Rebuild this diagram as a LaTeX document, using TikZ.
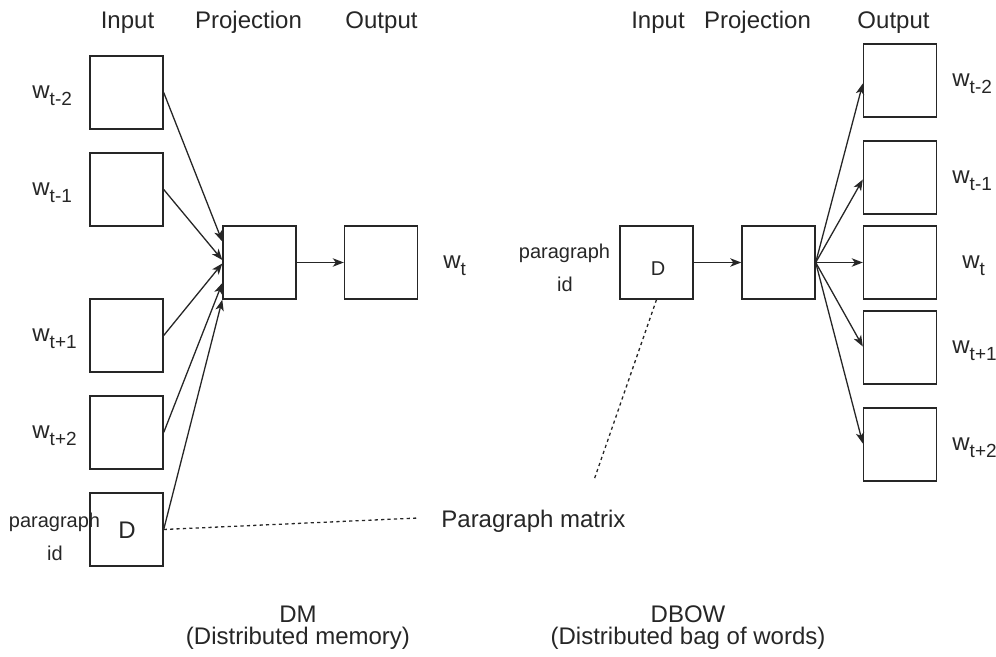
\documentclass[tikz,border=0pt]{standalone}
\usepackage{fontspec}
\setmainfont{Liberation Sans}
\usetikzlibrary{arrows.meta,calc}
% word label with a lowered, smaller index
\newcommand\wsub[1]{w\raisebox{-3.5pt}{\fontsize{9.5}{9.5}\selectfont #1}}

\begin{document}
\begin{tikzpicture}[x=0.5pt,y=-0.5pt,
  every node/.style={text=black!85},
  box/.style={draw=black!85,line width=0.7pt,minimum width=36.5pt,minimum height=36.5pt,inner sep=0pt},
  lbl/.style={anchor=base west,inner sep=0pt,font=\fontsize{12}{14}\selectfont},
  head/.style={anchor=base,inner sep=0pt,font=\fontsize{12}{14}\selectfont},
  small/.style={anchor=base,inner sep=0pt,font=\fontsize{10}{12}\selectfont},
  arr/.style={draw=black!85,line width=0.65pt,-{Stealth[length=5.5pt,width=4.2pt,inset=1.5pt]}},
  link/.style={draw=black!85,line width=0.65pt,dash pattern=on 1.6pt off 1.6pt}]
\useasboundingbox (0,0) rectangle (996,657);

% ---------- DM (distributed memory) ----------
\node[head] (hIn1)   at (127.5,29) {Input};
\node[head] (hPr1)   at (248.5,29) {Projection};
\node[head] (hOut1)  at (381.5,29) {Output};

\node[box] (a1) at (126.5,92.5) {};
\node[box] (a2) at (126.5,189.5) {};
\node[box] (a3) at (126.5,335.5) {};
\node[box] (a4) at (126.5,432.5) {};
\node[box] (a5) at (126.5,529.5) {};
\node[inner sep=0pt,font=\fontsize{12}{14}\selectfont] (aD) at (127,530) {D};
\node[box] (ap) at (259.5,262.5) {};
\node[box] (ao) at (381,262.5) {};

\node[lbl] (la1) at (32,99)  {\wsub{t-2}};
\node[lbl] (la2) at (32,196) {\wsub{t-1}};
\node[lbl] (la3) at (32,342) {\wsub{t+1}};
\node[lbl] (la4) at (32,439) {\wsub{t+2}};
\node[lbl] (lao) at (443,269) {\wsub{t}};
\node[small] (pa1) at (54.5,527) {paragraph};
\node[small] (pa2) at (55,560) {id};

\draw[arr] (a1.east) -- ($(ap.west)+(0,-21)$);
\draw[arr] (a2.east) -- ($(ap.west)+(0,-2.5)$);
\draw[arr] (a3.east) -- ($(ap.west)+(0,1)$);
\draw[arr] (a4.east) -- ($(ap.west)+(0,20.5)$);
\draw[arr] (a5.east) -- (ap.south west);
\draw[arr] (ap.east) -- (ao.west);

% ---------- DBOW (distributed bag of words) ----------
\node[head] (hIn2)   at (658,29) {Input};
\node[head] (hPr2)   at (757.5,29) {Projection};
\node[head] (hOut2)  at (893.5,29) {Output};

\node[box] (b1) at (656.5,262.5) {};
\node[inner sep=0pt,font=\fontsize{10}{12}\selectfont] (bD) at (658,269) {D};
\node[box] (bp) at (778.5,262.5) {};
\node[box] (c1) at (900,80.5) {};
\node[box] (c2) at (900,177.5) {};
\node[box] (c3) at (900,262.5) {};
\node[box] (c4) at (900,347.5) {};
\node[box] (c5) at (900,444.5) {};

\node[small] (pb1) at (564.5,259) {paragraph};
\node[small] (pb2) at (565,292) {id};
\node[lbl] (lc1) at (952,87)  {\wsub{t-2}};
\node[lbl] (lc2) at (952,184) {\wsub{t-1}};
\node[lbl] (lc3) at (962,269) {\wsub{t}};
\node[lbl] (lc4) at (952,354) {\wsub{t+1}};
\node[lbl] (lc5) at (952,451) {\wsub{t+2}};

\draw[arr] (b1.east) -- (bp.west);
\draw[arr] (bp.east) -- ($(c1.west)+(0,3)$);
\draw[arr] (bp.east) -- ($(c2.west)+(0,2)$);
\draw[arr] (bp.east) -- (c3.west);
\draw[arr] (bp.east) -- ($(c4.west)+(0,-1)$);
\draw[arr] (bp.east) -- ($(c5.west)+(0,-1)$);

% ---------- shared paragraph matrix ----------
\node[lbl] (pm) at (441,527) {Paragraph matrix};
\coordinate (pmL) at (418,518);
\coordinate (pmT) at (594,480);
\draw[link] (a5.east) -- (pmL);
\draw[link] (b1.south) -- (pmT);

% ---------- captions ----------
\node[head] (cap1a) at (298,622) {DM};
\node[head] (cap1b) at (298,644) {(Distributed memory)};
\node[head] (cap2a) at (688,622) {DBOW};
\node[head] (cap2b) at (688,644) {(Distributed bag of words)};
\end{tikzpicture}
\end{document}
